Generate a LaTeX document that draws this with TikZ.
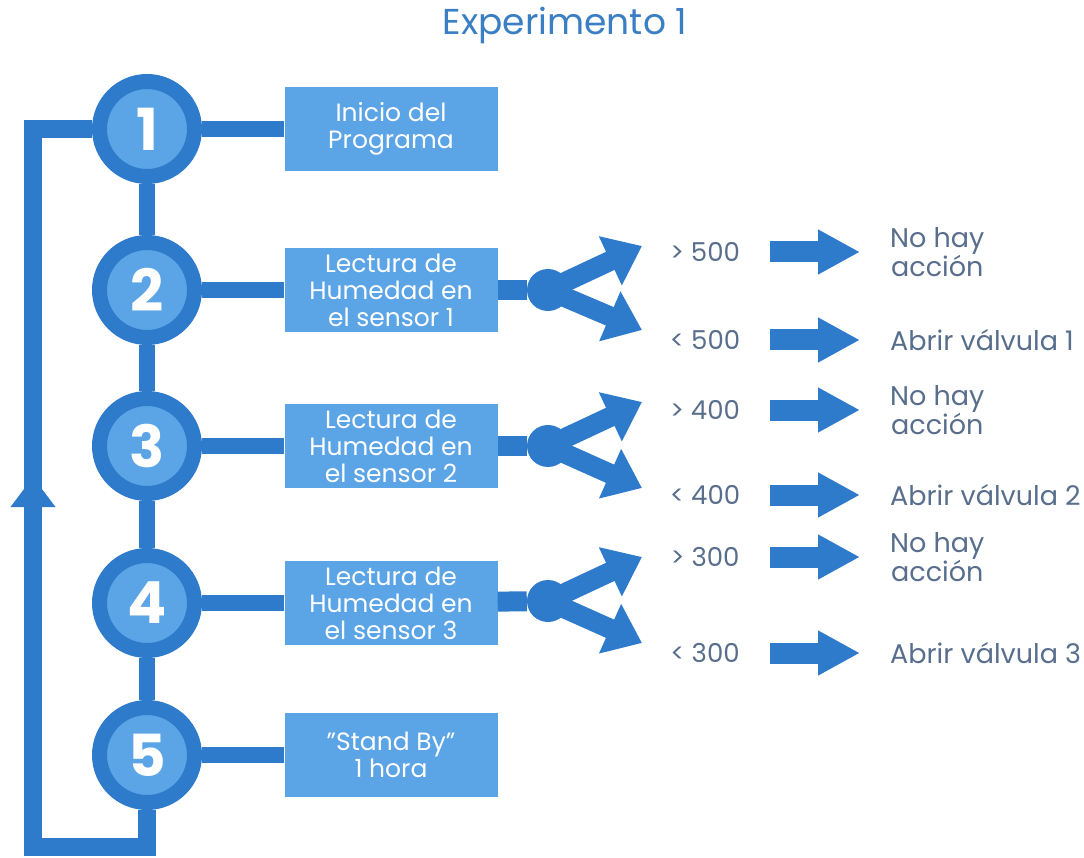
\documentclass[tikz,border=0pt]{standalone}
\usepackage{fontspec}
\setmainfont{Poppins}
\usetikzlibrary{arrows.meta,decorations.markings}
\definecolor{darkblue}{RGB}{46,123,204}
\definecolor{lightblue}{RGB}{91,164,229}
\definecolor{labelgray}{RGB}{88,110,140}
\definecolor{titleblue}{RGB}{58,126,196}

\begin{document}
\begin{tikzpicture}[x=1pt,y=-1pt,
    stepcircle/.style={circle,draw=darkblue,line width=15pt,fill=lightblue,minimum size=95pt,inner sep=0pt,text=white,font=\fontsize{58}{58}\selectfont\bfseries},
    infobox/.style={rectangle,fill=lightblue,minimum width=213pt,minimum height=84pt,inner sep=0pt,text=white,align=center,font=\fontsize{25}{27}\selectfont},
    dot/.style={circle,fill=darkblue,minimum size=42pt,inner sep=0pt},
    cond/.style={text=labelgray,minimum width=76pt,inner sep=0pt,font=\fontsize{26}{28}\selectfont},
    outcome/.style={text=labelgray,anchor=west,inner sep=0pt,align=center,font=\fontsize{27}{28}\selectfont},
    link/.style={darkblue,line width=16pt},
    feed/.style={darkblue,line width=20pt},
    splitarrow/.style={darkblue,line width=20pt,-{Triangle[length=35pt,width=52pt]}},
    bigarrow/.style={darkblue,line width=21pt,-{Triangle[length=42pt,width=42pt]},shorten <=27pt,shorten >=30pt}]
  \useasboundingbox (0,0) rectangle (1084,858);

  \node[text=titleblue,font=\fontsize{36}{40}\selectfont] (title) at (565,25) {Experimento 1};

  % steps
  \node[stepcircle] (c1) at (147,129) {1};
  \node[stepcircle] (c2) at (147,290) {2};
  \node[stepcircle] (c3) at (147,446) {3};
  \node[stepcircle] (c4) at (147,603) {4};
  \node[stepcircle] (c5) at (147,755) {5};

  \node[infobox] (b1) at (391,129) {Inicio del\\Programa};
  \node[infobox] (b2) at (391,290) {Lectura de\\Humedad en\\el sensor 1};
  \node[infobox] (b3) at (391,446) {Lectura de\\Humedad en\\el sensor 2};
  \node[infobox] (b4) at (391,603) {Lectura de\\Humedad en\\el sensor 3};
  \node[infobox] (b5) at (391,755) {"Stand By"\\1 hora};

  \draw[link] (c1) -- (c2);
  \draw[link] (c2) -- (c3);
  \draw[link] (c3) -- (c4);
  \draw[link] (c4) -- (c5);
  \draw[link] (c1) -- (b1);
  \draw[link] (c2) -- (b2);
  \draw[link] (c3) -- (b3);
  \draw[link] (c4) -- (b4);
  \draw[link] (c5) -- (b5);

  % loop back
  \coordinate (corner) at (33,847);
  \draw[link,line width=18pt,postaction={decorate,decoration={markings,
      mark=at position 521pt with {\arrow{Triangle[length=30pt,width=43pt]}}}}]
    (c5.south) |- (corner) |- (c1.west);

  % sensor 1
  \node[dot] (d2) at (548,290) {};
  \draw[feed] (b2) -- (d2);
  \coordinate (u2) at (642,246);
  \coordinate (l2) at (642,330);
  \draw[splitarrow] (d2.center) -- (u2);
  \draw[splitarrow] (d2.center) -- (l2);
  \node[cond] (gt2) at (705,252) {> 500};
  \node[cond] (lt2) at (705,340) {< 500};
  \node[outcome] (no2) at (890,252) {No hay\\acción};
  \node[outcome] (ab2) at (890,340) {Abrir válvula 1};
  \draw[bigarrow] (gt2) -- (gt2 -| no2.west);
  \draw[bigarrow] (lt2) -- (lt2 -| ab2.west);

  % sensor 2
  \node[dot] (d3) at (548,446) {};
  \draw[feed] (b3) -- (d3);
  \coordinate (u3) at (642,402);
  \coordinate (l3) at (642,488);
  \draw[splitarrow] (d3.center) -- (u3);
  \draw[splitarrow] (d3.center) -- (l3);
  \node[cond] (gt3) at (705,410) {> 400};
  \node[cond] (lt3) at (705,495) {< 400};
  \node[outcome] (no3) at (890,410) {No hay\\acción};
  \node[outcome] (ab3) at (890,495) {Abrir válvula 2};
  \draw[bigarrow] (gt3) -- (gt3 -| no3.west);
  \draw[bigarrow] (lt3) -- (lt3 -| ab3.west);

  % sensor 3
  \node[dot] (d4) at (548,601) {};
  \draw[feed] (b4) -- (d4);
  \coordinate (u4) at (642,557);
  \coordinate (l4) at (642,643);
  \draw[splitarrow] (d4.center) -- (u4);
  \draw[splitarrow] (d4.center) -- (l4);
  \node[cond] (gt4) at (705,557) {> 300};
  \node[cond] (lt4) at (705,653) {< 300};
  \node[outcome] (no4) at (890,557) {No hay\\acción};
  \node[outcome] (ab4) at (890,653) {Abrir válvula 3};
  \draw[bigarrow] (gt4) -- (gt4 -| no4.west);
  \draw[bigarrow] (lt4) -- (lt4 -| ab4.west);
\end{tikzpicture}
\end{document}
